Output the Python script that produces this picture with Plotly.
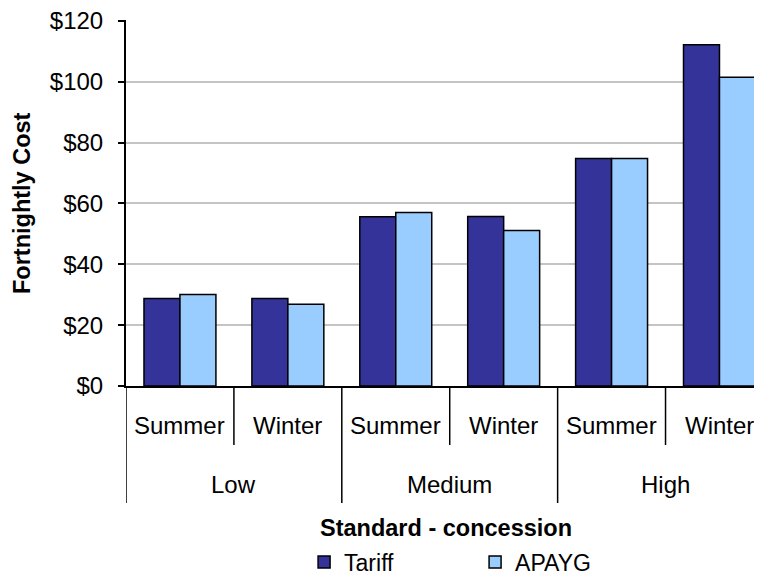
import plotly.graph_objects as go

levels = ["Low", "Medium", "High"]
seasons = ["Summer", "Winter"]
categories = [f"{lv} {s}" for lv in levels for s in seasons]
tariff = [28.8, 28.8, 55.6, 55.7, 74.8, 112.2]
apayg = [30.1, 26.9, 57.0, 51.1, 74.8, 101.5]
y_max = 120
y_step = 20

FONT = "Liberation Sans, Arial, sans-serif"

fig = go.Figure()
fig.add_bar(x=categories, y=tariff, name="Tariff",
            marker=dict(color="#333399", line=dict(color="black", width=1.5)))
fig.add_bar(x=categories, y=apayg, name="APAYG",
            marker=dict(color="#99CCFF", line=dict(color="black", width=1.5)))

shapes = []
annotations = []
n = len(categories)
for i in range(n + 1):
    pos = i - 0.5
    is_group = (i % len(seasons) == 0)
    shapes.append(dict(type="line", xref="x", yref="paper",
                       x0=pos, x1=pos, y0=0, y1=-0.3197 if is_group else -0.1612,
                       line=dict(color="black", width=1.5)))
for i, c in enumerate(categories):
    annotations.append(dict(x=c, y=-0.1066, xref="x", yref="paper",
                            text=seasons[i % len(seasons)], showarrow=False,
                            xanchor="center", yanchor="middle",
                            font=dict(family=FONT, size=24, color="black")))
for j, lv in enumerate(levels):
    annotations.append(dict(x=j * len(seasons) + 0.5, y=-0.2678, xref="x", yref="paper",
                            text=lv, showarrow=False, xanchor="center", yanchor="middle",
                            font=dict(family=FONT, size=24, color="black")))
annotations.append(dict(x=0.503, y=-0.388, xref="paper", yref="paper",
                        text="<b>Standard - concession</b>", showarrow=False,
                        xanchor="center", yanchor="middle",
                        font=dict(family=FONT, size=23.5, color="black")))
annotations.append(dict(x=-0.1635, y=0.5, xref="paper", yref="paper",
                        text="<b>Fortnightly Cost</b>", showarrow=False, textangle=-90,
                        xanchor="center", yanchor="middle",
                        font=dict(family=FONT, size=23.5, color="black")))

fig.update_layout(
    width=754, height=568,
    margin=dict(l=118, r=0, t=12, b=190, autoexpand=False),
    paper_bgcolor="white", plot_bgcolor="white",
    barmode="group", bargap=0.3333, bargroupgap=0,
    font=dict(family=FONT, size=24, color="black"),
    shapes=shapes, annotations=annotations,
    showlegend=True,
    legend=dict(orientation="h", x=0.28, xanchor="left", y=-0.481, yanchor="middle",
                font=dict(family=FONT, size=23, color="black"),
                entrywidth=126, entrywidthmode="pixels",
                bgcolor="rgba(0,0,0,0)", itemwidth=30),
    xaxis=dict(type="category", range=[-0.5, 5.394], showticklabels=False,
               showline=True, linecolor="black", linewidth=2, ticks="",
               showgrid=False, zeroline=False, fixedrange=True, automargin=False),
    yaxis=dict(range=[0, y_max + 0.3], tickmode="linear", tick0=0, dtick=y_step,
               tickprefix="$", showtickprefix="all", ticklabeloverflow="allow",
               showgrid=True, gridcolor="#c4c4c4", gridwidth=1.5,
               showline=True, linecolor="black", linewidth=2,
               ticks="outside", ticklen=6, tickwidth=1.5, tickcolor="black",
               ticklabelstandoff=10, zeroline=False, automargin=False,
               tickfont=dict(family=FONT, size=24, color="black")),
)

fig.write_html("out.html")
